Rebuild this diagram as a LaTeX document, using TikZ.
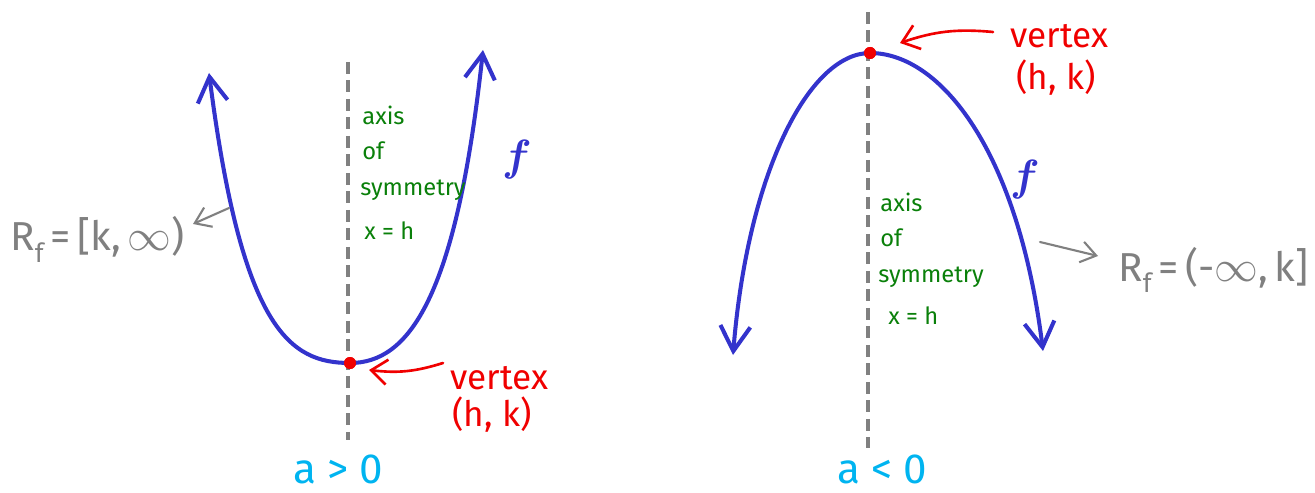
\documentclass[tikz,border=0pt]{standalone}
\usepackage{fontspec}
\usepackage{bm}
\setmainfont{Fira Sans}
\usetikzlibrary{arrows.meta}
\definecolor{curveblue}{RGB}{51,51,204}
\definecolor{axisgray}{RGB}{128,128,128}
\definecolor{symgreen}{RGB}{10,128,10}
\definecolor{vred}{RGB}{240,0,0}
\definecolor{acyan}{RGB}{0,180,240}
\newcommand{\Rsubf}{R\raisebox{-0.55ex}{\fontsize{15}{15}\selectfont f}}
\tikzset{
  parab/.style={draw=curveblue, line width=2.3pt, line cap=round,
    -{Straight Barb[length=0.5cm,width=0.6cm,line width=2.3pt]}},
  axisline/.style={draw=axisgray, line width=1.9pt, dash pattern=on 0.24cm off 0.13cm},
  vdot/.style={circle, fill=vred, minimum size=0.24cm, inner sep=0pt},
  greentxt/.style={text=symgreen, font=\fontsize{13.5}{16}\selectfont, anchor=base west, inner sep=0pt},
  redtxt/.style={text=vred, font=\fontsize{20}{24}\selectfont, anchor=base west, inner sep=0pt},
  graytxt/.style={text=axisgray, font=\fontsize{23}{27}\selectfont, anchor=base west, inner sep=0pt},
  ftxt/.style={text=curveblue, font=\fontsize{30}{32}\selectfont, inner sep=0pt},
  atxt/.style={text=acyan, font=\fontsize{24}{28}\selectfont, inner sep=0pt},
  redarrow/.style={draw=vred, line width=1.5pt, line cap=round,
    -{Straight Barb[length=0.32cm,width=0.5cm,line width=1.5pt]}},
  grayarrow/.style={draw=axisgray, line width=1.2pt, line cap=round,
    -{Straight Barb[length=0.3cm,width=0.42cm,line width=1.2pt]}}
}
\begin{document}
\begin{tikzpicture}[x=0.02cm, y=-0.02cm]
\useasboundingbox (0,0) rectangle (1315,493);
% ---------- left: a > 0 ----------
\coordinate (axLtop) at (348,62);
\coordinate (axLbot) at (348,440);
\draw[axisline] (axLtop) -- (axLbot);
\node[vdot] (vL) at (350,363) {};
\draw[parab] (vL.center) .. controls (290,363) and (242,330) .. (209,73);
\draw[parab] (vL.center) .. controls (408,363) and (456,300) .. (483,50);
\node[vdot] at (350,363) {};
\node[greentxt] (axisL1) at (362,125) {axis};
\node[greentxt] (axisL2) at (362,160) {of};
\node[greentxt] (axisL3) at (360,196) {symmetry};
\node[greentxt] (axisL4) at (364,240) {x = h};
\node[ftxt] (fL) at (517,160) {$\bm{f}$};
\node[redtxt] (vtxL) at (450,389) {vertex};
\node[redtxt] (hkL) at (452,426) {(h, k)};
\coordinate (raLtail) at (443,363);
\coordinate (raLtip) at (369,370);
\draw[redarrow] (raLtail) to[bend left=12] (raLtip);
\node[graytxt] (rfL) at (10,251) {\Rsubf\,=\,[k,\,$\infty$)};
\coordinate (gaLtail) at (229,208);
\coordinate (gaLtip) at (193,224);
\draw[grayarrow] (gaLtail) -- (gaLtip);
\node[atxt] (aL) at (338,469) {a > 0};
% ---------- right: a < 0 ----------
\coordinate (axRtop) at (868,12);
\coordinate (axRbot) at (868,448);
\draw[axisline] (axRtop) -- (axRbot);
\node[vdot] (vR) at (870,53) {};
\draw[parab] (vR.center) .. controls (810,53) and (748,170) .. (733,355);
\draw[parab] (vR.center) .. controls (940,53) and (1018,150) .. (1043,351);
\node[vdot] at (870,53) {};
\node[greentxt] (axisR1) at (880,212) {axis};
\node[greentxt] (axisR2) at (880,247) {of};
\node[greentxt] (axisR3) at (878,282) {symmetry};
\node[greentxt] (axisR4) at (888,324) {x = h};
\node[ftxt] (fR) at (1025,180) {$\bm{f}$};
\node[redtxt] (vtxR) at (1010,48) {vertex};
\node[redtxt] (hkR) at (1016,90) {(h, k)};
\coordinate (raRtail) at (993,32);
\coordinate (raRtip) at (900,43);
\draw[redarrow] (raRtail) to[bend right=12] (raRtip);
\node[graytxt] (rfR) at (1118,281) {\Rsubf\,=\,(-$\infty$,\,k]};
\coordinate (gaRtail) at (1040,242);
\coordinate (gaRtip) at (1098,256);
\draw[grayarrow] (gaRtail) -- (gaRtip);
\node[atxt] (aR) at (882,469) {a < 0};
\end{tikzpicture}
\end{document}
